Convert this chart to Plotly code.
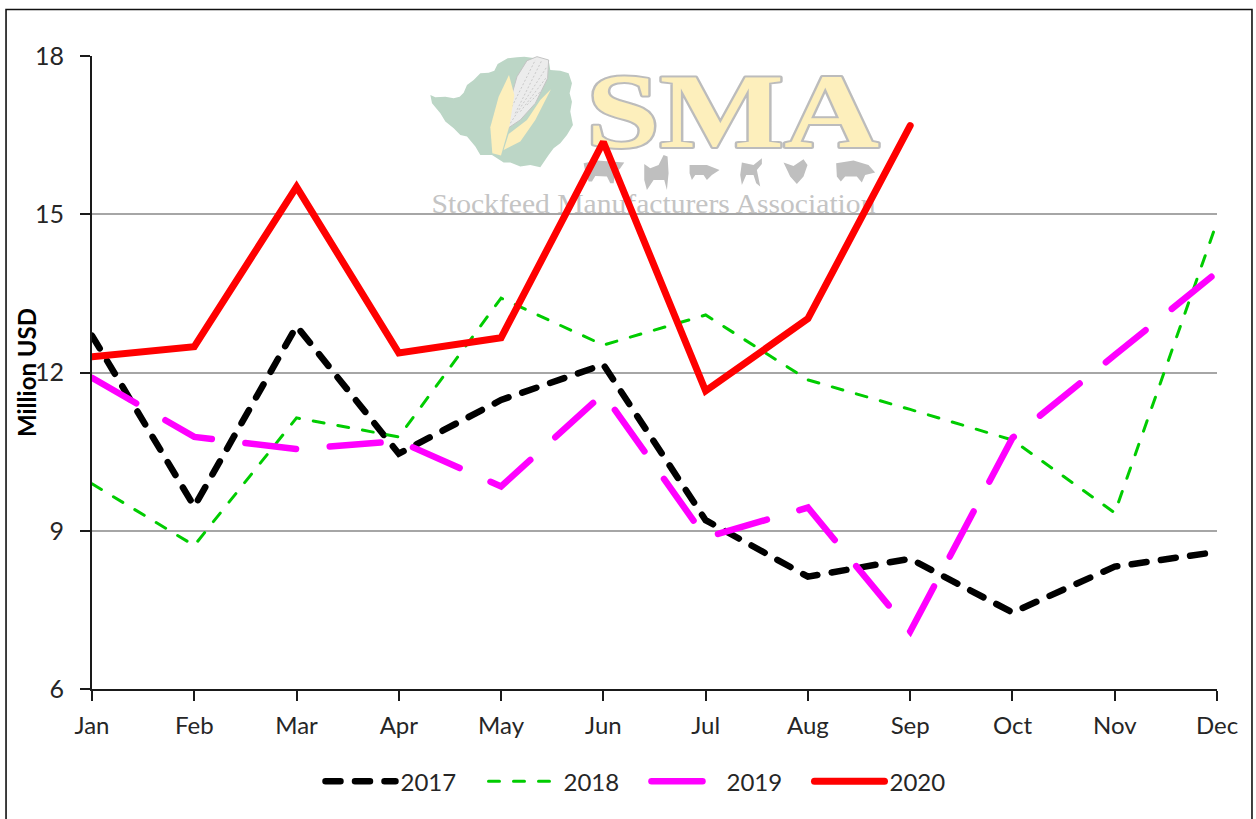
import plotly.graph_objects as go

months = ["Jan", "Feb", "Mar", "Apr", "May", "Jun", "Jul", "Aug", "Sep", "Oct", "Nov", "Dec"]
v2017 = [12.70, 9.46, 12.88, 10.46, 11.48, 12.15, 9.20, 8.13, 8.47, 7.45, 8.32, 8.60]
v2018 = [9.89, 8.72, 11.14, 10.78, 13.41, 12.52, 13.09, 11.86, 11.30, 10.72, 9.34, 14.85]
v2019 = [11.90, 10.78, 10.55, 10.70, 9.84, 11.60, 8.87, 9.44, 7.09, 10.76, 12.33, 13.90]
v2020 = [12.30, 12.49, 15.52, 12.37, 12.66, 16.37, 11.65, 13.02, 16.68]

W, H = 1256, 819
L, R, T, B = 91.5, 1217, 56, 689.5
FONT = "Lato, Carlito, Calibri, sans-serif"
INK = "#262626"

# Logo artwork (decoration): outlines in 3x crop coordinates of the logo box
MAP = [(30,165),(45,172),(75,170),(100,175),(118,170),(130,158),(140,135),(160,120),(180,100),(205,98),(222,92),(232,72),(262,55),(290,52),(312,50),(385,60),(390,90),(420,92),(445,100),(455,130),(448,160),(455,185),(450,215),(458,255),(440,285),(420,310),(400,325),(385,345),(360,382),(330,375),(300,380),(270,368),(250,368),(215,345),(180,345),(165,320),(140,290),(120,285),(100,265),(75,245),(60,220),(35,190)]
COB = [(258,268),(270,180),(290,110),(320,62),(350,50),(385,60),(382,115),(345,190),(300,240)]
COB_ROWS = [(275,200,345,60),(285,220,365,60),(270,250,380,80),(300,215,380,110),(320,195,365,150)]
LEAF_L = [(266,105),(282,165),(268,255),(242,347),(216,340),(210,262),(235,170)]
LEAF_R = [(392,148),(345,240),(300,305),(250,330),(265,282),(320,240),(360,180)]
COW = [(490,370),(530,362),(612,368),(600,385),(585,400),(580,430),(570,430),(560,410),(525,408),(515,425),(505,425),(495,395)]
HORSE = [(672,372),(690,385),(715,375),(730,345),(742,350),(745,400),(740,450),(732,420),(700,420),(680,450),(672,420)]
BULL = [(808,375),(860,375),(898,390),(875,405),(860,420),(850,405),(825,405),(815,420),(808,400)]
GOAT = [(965,368),(1000,375),(1025,355),(1025,372),(1010,390),(1020,440),(1008,430),(1000,405),(978,405),(965,435),(960,405)]
HEN = [(1090,368),(1120,378),(1150,358),(1162,375),(1150,410),(1130,432),(1110,410)]
PIG = [(1248,370),(1300,362),(1345,375),(1365,398),(1335,405),(1325,428),(1310,410),(1275,410),(1262,425),(1250,410)]


def to_paper(zx, zy):
    px = 420 + zx / 3
    py = 40 + zy / 3
    return (px - L) / (R - L), (B - py) / (B - T)


def logo_path(points):
    cmds = []
    for i, (zx, zy) in enumerate(points):
        ax, ay = to_paper(zx, zy)
        cmds.append(("M" if i == 0 else "L") + f"{ax:.5f},{ay:.5f}")
    return " ".join(cmds) + " Z"


def logo_shape(points, fill, line="rgba(0,0,0,0)", w=0):
    return dict(type="path", xref="paper", yref="paper", layer="below", path=logo_path(points),
                fillcolor=fill, line=dict(color=line, width=w))


shapes = [logo_shape(MAP, "#bcd6c6"), logo_shape(COB, "#ececec", "#c4c4c4", 1)]
for x0, y0, x1, y1 in COB_ROWS:
    a0, b0 = to_paper(x0, y0)
    a1, b1 = to_paper(x1, y1)
    shapes.append(dict(type="line", xref="paper", yref="paper", layer="below", x0=a0, y0=b0, x1=a1, y1=b1,
                       line=dict(color="#c9c9c9", width=1, dash="2px,2px")))
shapes += [logo_shape(LEAF_L, "#fdefbc"), logo_shape(LEAF_R, "#fdefbc")]
shapes += [logo_shape(a, "#bfbfbf") for a in (COW, HORSE, BULL, GOAT, HEN, PIG)]
# outer chart frame
shapes.append(dict(type="rect", xref="paper", yref="paper", layer="above",
                   x0=(5.5 - L) / (R - L), x1=(1252 - L) / (R - L),
                   y0=(B - 830) / (B - T), y1=(B - 9.5) / (B - T),
                   line=dict(color="#111111", width=1.6), fillcolor="rgba(0,0,0,0)"))

fig = go.Figure()
fig.add_trace(go.Scatter(x=months, y=v2017, name="2017", mode="lines",
                         line=dict(color="#000000", width=6.5, dash="15px,14.5px")))
fig.add_trace(go.Scatter(x=months, y=v2018, name="2018", mode="lines",
                         line=dict(color="#00cc00", width=3, dash="11px,14px")))
fig.add_trace(go.Scatter(x=months, y=v2019, name="2019", mode="lines",
                         line=dict(color="#ff00ff", width=6.5, dash="51px,33.8px")))
fig.add_trace(go.Scatter(x=months[:len(v2020)], y=v2020, name="2020", mode="lines",
                         line=dict(color="#ff0000", width=7)))

fig.update_layout(
    width=W, height=H,
    margin=dict(l=L, r=W - R, t=T, b=H - B),
    paper_bgcolor="white", plot_bgcolor="white",
    font=dict(family=FONT, size=24, color=INK),
    showlegend=True,
    legend=dict(orientation="h", x=0.2031, xanchor="left", y=-0.111, yanchor="top",
                itemwidth=70, entrywidth=78, entrywidthmode="pixels",
                font=dict(size=24, color=INK), bgcolor="rgba(0,0,0,0)",
                itemclick=False, itemdoubleclick=False),
    xaxis=dict(type="category", categoryorder="array", categoryarray=months, range=[0, 11],
               showline=True, linecolor="#1a1a1a", linewidth=2, ticks="outside", ticklen=10,
               tickwidth=1.5, tickcolor="#1a1a1a", showgrid=False, tickfont=dict(size=24, color=INK),
               zeroline=False, ticklabelstandoff=4),
    yaxis=dict(range=[6, 18], tickvals=[6, 9, 12, 15, 18], showline=True, linecolor="#1a1a1a", linewidth=2,
               ticks="outside", ticklen=10, tickwidth=1.5, tickcolor="#1a1a1a", showgrid=True,
               gridcolor="#a6a6a6", gridwidth=2, tickfont=dict(size=25, color=INK), zeroline=False,
               ticklabelstandoff=11,
               title=dict(text="<b>Million USD</b>", font=dict(size=24, color="#000000"), standoff=0)),
    shapes=shapes,
    annotations=[
        dict(text="SMA", xref="paper", yref="paper", x=(733 - L) / (R - L), y=(B - 112) / (B - T),
             xanchor="center", yanchor="middle", showarrow=False,
             font=dict(family="Liberation Serif", size=106, color="#fdefbc", weight="bold")),
        dict(text="Stockfeed Manufacturers Association", xref="paper", yref="paper",
             x=(653 - L) / (R - L), y=(B - 204) / (B - T), xanchor="center", yanchor="middle", showarrow=False,
             font=dict(family="Liberation Serif", size=27, color="#c4c4c4")),
    ],
)

post = """
document.documentElement.style.overflow='hidden';
document.body.style.margin='0';
var gd=document.querySelector('.plotly-graph-div');
var low=gd.querySelector('.layer-below .shapelayer');
gd.querySelectorAll('.annotation').forEach(function(a){
  var t=a.querySelector('text');
  var s=t.textContent;
  t.setAttribute('lengthAdjust','spacingAndGlyphs');
  t.setAttribute('textLength', s==='SMA'?'293':'444');
  if(s==='SMA'){t.style.stroke='#bcbcbc';t.style.strokeWidth='4px';t.style.paintOrder='stroke';t.style.strokeLinejoin='round';}
  if(low){low.appendChild(a);}
});
var yt=gd.querySelector('.ytitle');
if(yt){yt.setAttribute('transform','translate(8,0) '+(yt.getAttribute('transform')||''));}
gd.querySelectorAll('.scatterlayer .js-line, .legendlines path').forEach(function(p){p.style.strokeLinecap='round';});
"""
fig.write_html("out.html", post_script=post, config=dict(displayModeBar=False))
